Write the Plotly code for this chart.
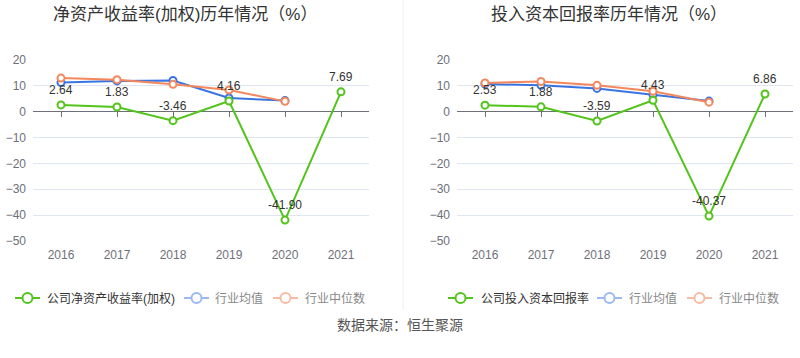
import plotly.graph_objects as go

years = ["2016", "2017", "2018", "2019", "2020", "2021"]

roe_company = [2.64, 1.83, -3.46, 4.16, -41.90, 7.69]
roe_ind_mean = [11.3, 11.9, 12.1, 5.3, 4.3, None]
roe_ind_median = [13.0, 12.4, 10.6, 8.4, 4.0, None]

roic_company = [2.53, 1.88, -3.59, 4.43, -40.37, 6.86]
roic_ind_mean = [10.7, 10.2, 9.0, 6.6, 4.1, None]
roic_ind_median = [11.1, 11.7, 10.2, 7.9, 3.7, None]

y_ticks = [20, 10, 0, -10, -20, -30, -40, -50]

titles = ["净资产收益率(加权)历年情况（%）", "投入资本回报率历年情况（%）"]
legend_names = [
    ["公司净资产收益率(加权)", "行业均值", "行业中位数"],
    ["公司投入资本回报率", "行业均值", "行业中位数"],
]
source_text = "数据来源：恒生聚源"

GREEN = "#52c41a"
BLUE = "#3a74e0"
ORANGE = "#f4875b"
BLUE_L = "#9ab9f2"
ORANGE_L = "#f8bba4"
FONT = "Liberation Sans, Noto Sans CJK SC, sans-serif"

W, H = 800, 358


def py(p):
    return 1 - p / H


def px(p):
    return p / W


fig = go.Figure()

panels = [
    (roe_company, roe_ind_mean, roe_ind_median, "x", "y", "x3"),
    (roic_company, roic_ind_mean, roic_ind_median, "x2", "y2", "x4"),
]

for comp, mean, med, xa, ya, xt in panels:
    for vals, col in [(mean, BLUE), (med, ORANGE), (comp, GREEN)]:
        fig.add_trace(go.Scatter(
            x=years, y=vals, xaxis=xa, yaxis=ya, mode="lines+markers",
            line=dict(color=col, width=2),
            marker=dict(symbol="circle", size=7, color="white",
                        line=dict(color=col, width=2)),
            showlegend=False, hoverinfo="skip", cliponaxis=False,
        ))
    for i, v in enumerate(comp):
        fig.add_annotation(
            x=i, y=v, xref=xa, yref=ya, text=f"{v:.2f}", showarrow=False,
            yshift=15, font=dict(family=FONT, size=12, color="#333333"),
        )
    fig.add_trace(go.Scatter(
        x=years, y=[0] * len(years), xaxis=xt, yaxis=ya, mode="markers",
        marker=dict(size=1, opacity=0), showlegend=False, hoverinfo="skip",
    ))

ydom = [py(241), py(60)]
zero_pos = py(111)
tf = dict(family=FONT, size=12, color="#6e7079")
fig.update_layout(
    width=W, height=H, autosize=False,
    margin=dict(l=0, r=0, t=0, b=0, pad=0, autoexpand=False),
    paper_bgcolor="white", plot_bgcolor="white",
    xaxis=dict(domain=[px(33), px(369)], range=[-0.5, 5.5], type="category",
               showgrid=False, zeroline=False, showline=False, ticks="",
               anchor="y", tickfont=tf, automargin=False, ticklabelstandoff=5),
    yaxis=dict(domain=ydom, range=[-50, 20], tickvals=y_ticks, showgrid=True,
               gridcolor="#e0e6f1", zeroline=True, zerolinecolor="#6e7079",
               zerolinewidth=1, showline=False, ticks="", anchor="x",
               ticklabelstandoff=6, tickfont=tf, automargin=False),
    xaxis2=dict(domain=[px(457), px(793)], range=[-0.5, 5.5], type="category",
                showgrid=False, zeroline=False, showline=False, ticks="",
                anchor="y2", tickfont=tf, automargin=False, ticklabelstandoff=5),
    yaxis2=dict(domain=ydom, range=[-50, 20], tickvals=y_ticks, showgrid=True,
                gridcolor="#e0e6f1", zeroline=True, zerolinecolor="#6e7079",
                zerolinewidth=1, showline=False, ticks="", anchor="x2",
                ticklabelstandoff=6, tickfont=tf, automargin=False),
    xaxis3=dict(overlaying="x", anchor="free", position=zero_pos, type="category",
                range=[-0.5, 5.5], showgrid=False, zeroline=False, showline=False,
                ticks="outside", ticklen=5, tickcolor="#6e7079", showticklabels=False,
                automargin=False),
    xaxis4=dict(overlaying="x2", anchor="free", position=zero_pos, type="category",
                range=[-0.5, 5.5], showgrid=False, zeroline=False, showline=False,
                ticks="outside", ticklen=5, tickcolor="#6e7079", showticklabels=False,
                automargin=False),
)

for t, cx in zip(titles, [185, 609]):
    fig.add_annotation(x=px(cx), y=py(14), xref="paper", yref="paper", text=t,
                       showarrow=False, xanchor="center", yanchor="middle",
                       font=dict(family=FONT, size=17, color="#333333"))

fig.add_shape(type="line", xref="paper", yref="paper", x0=px(403), x1=px(403),
              y0=py(0), y1=py(310), line=dict(color="#eeeeee", width=1))

legend_layout = [
    [(15, 45, GREEN, "#333333"), (184, 213, BLUE_L, "#888888"), (273, 303, ORANGE_L, "#888888")],
    [(448, 479, GREEN, "#333333"), (597, 627, BLUE_L, "#888888"), (687, 717, ORANGE_L, "#888888")],
]
ly = 298
for names, items in zip(legend_names, legend_layout):
    for name, (sx, tx, col, tcol) in zip(names, items):
        fig.add_shape(type="line", xref="paper", yref="paper", x0=px(sx), x1=px(sx + 25),
                      y0=py(ly), y1=py(ly), line=dict(color=col, width=2))
        fig.add_shape(type="circle", xref="paper", yref="paper",
                      x0=px(sx + 12.5 - 5), x1=px(sx + 12.5 + 5),
                      y0=py(ly + 5), y1=py(ly - 5),
                      line=dict(color=col, width=2), fillcolor="white")
        fig.add_annotation(x=px(tx), y=py(ly), xref="paper", yref="paper", text=name,
                           showarrow=False, xanchor="left", yanchor="middle",
                           font=dict(family=FONT, size=12, color=tcol))

fig.add_annotation(x=0.5, y=py(325), xref="paper", yref="paper", text=source_text,
                   showarrow=False, xanchor="center", yanchor="middle",
                   font=dict(family=FONT, size=14, color="#555555"))

post = (
    "document.documentElement.style.margin='0';"
    "document.body.style.margin='0';"
    "document.documentElement.style.overflow='hidden';"
    "document.body.style.overflow='hidden';"
    "var gd=document.getElementById('{plot_id}');"
    "gd.style.position='fixed';gd.style.left='0px';gd.style.top='0px';"
)
fig.write_html("out.html", config={"responsive": False, "displayModeBar": False},
               post_script=post)
